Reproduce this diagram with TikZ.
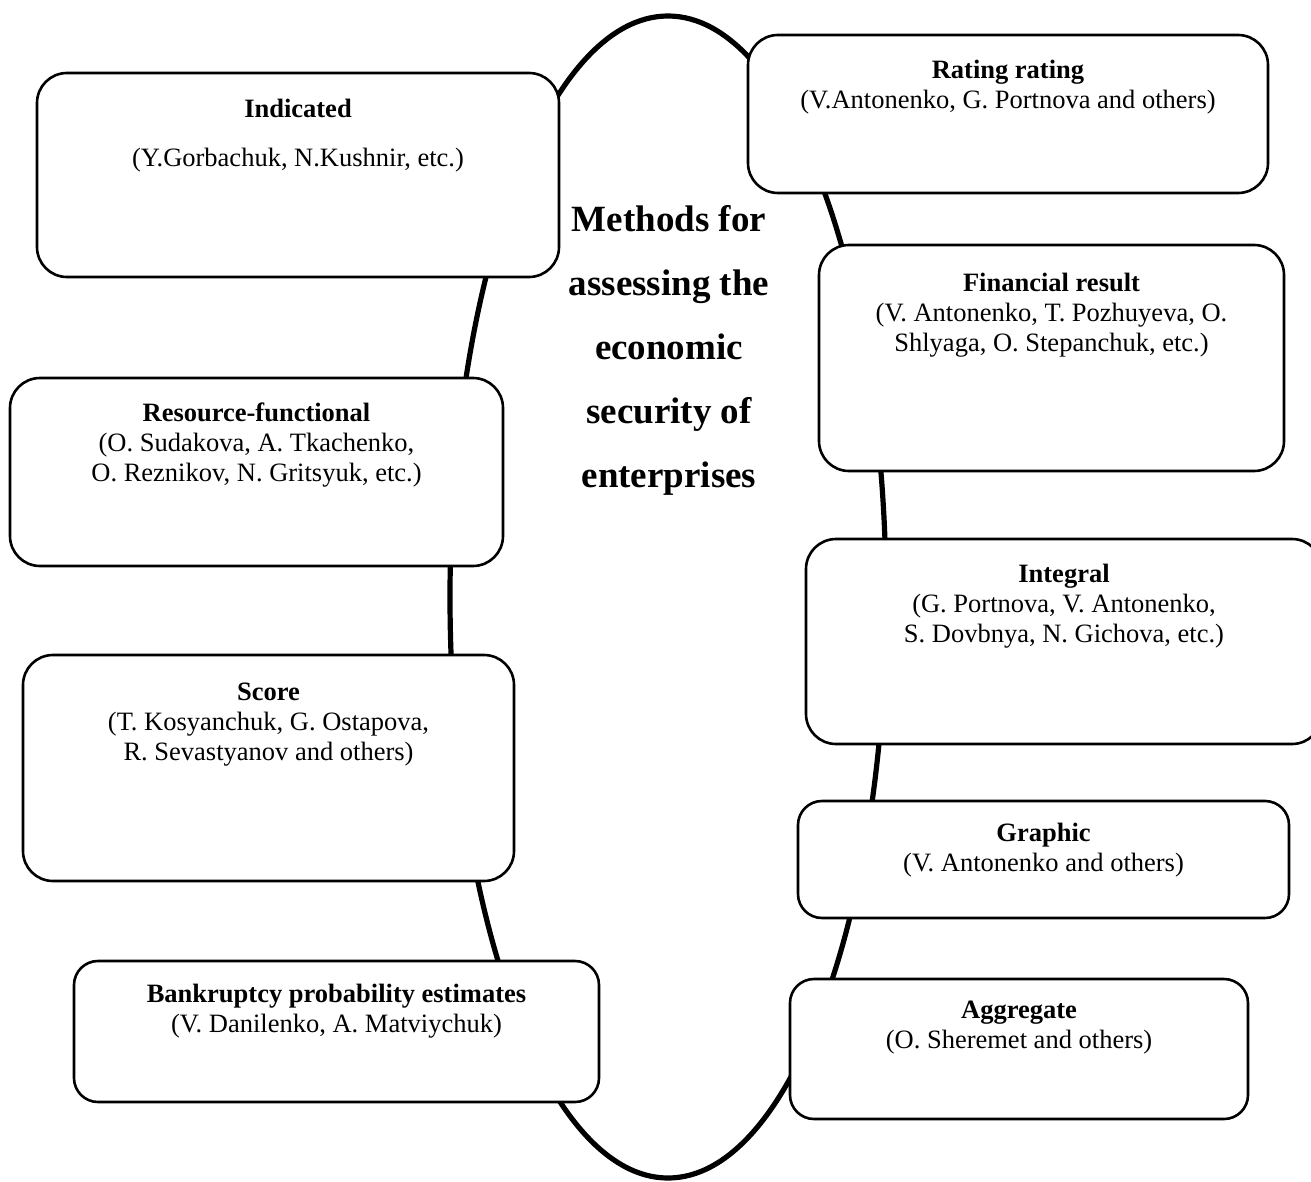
\documentclass[tikz,border=0pt]{standalone}
\usepackage{fontspec}
\setmainfont{Liberation Serif}
\usetikzlibrary{positioning}
\tikzset{
	methodbox/.style={draw, line width=1.3pt, fill=white, rounded corners=15pt, inner sep=0pt},
	methodtext/.style={align=center, inner sep=0pt, font=\fontsize{13.25}{15}\selectfont},
	titletext/.style={align=center, inner sep=0pt, font=\fontsize{18.5}{32}\selectfont\bfseries}
}

\begin{document}
\begin{tikzpicture}[x=0.5pt, y=-0.5pt]
	\useasboundingbox (0,0) rectangle (1311,1182);
	\clip (0,0) rectangle (1311,1182);
	\draw[line width=2.6pt] (668,597) ellipse [x radius=218, y radius=581];
	\node[titletext] (methods) at (669,350) {Methods for\\assessing the\\economic\\security of\\enterprises};
	\node[methodbox, minimum width=261pt, minimum height=102pt] (indicated) at (298,175) {};
	\node[methodtext, below=13.5pt of indicated.north] (indicatedtxt) {\textbf{Indicated}\\[9.5pt](Y.Gorbachuk, N.Kushnir, etc.)};
	\node[methodbox, minimum width=260pt, minimum height=79pt] (rating) at (1008,114) {};
	\node[methodtext, below=13pt of rating.north] (ratingtxt) {\textbf{Rating rating}\\(V.Antonenko, G. Portnova and others)};
	\node[methodbox, minimum width=232.5pt, minimum height=113pt] (financial) at (1051.5,358) {};
	\node[methodtext, below=14.5pt of financial.north] (financialtxt) {\textbf{Financial result}\\(V. Antonenko, T. Pozhuyeva, O.\\Shlyaga, O. Stepanchuk, etc.)};
	\node[methodbox, minimum width=246.5pt, minimum height=94pt] (resource) at (256.5,472) {};
	\node[methodtext, below=13pt of resource.north] (resourcetxt) {\textbf{Resource-functional}\\(O. Sudakova, A. Tkachenko,\\O. Reznikov, N. Gritsyuk, etc.)};
	\node[methodbox, minimum width=258pt, minimum height=102.5pt] (integral) at (1064,641.5) {};
	\node[methodtext, below=13pt of integral.north] (integraltxt) {\textbf{Integral}\\(G. Portnova, V. Antonenko,\\S. Dovbnya, N. Gichova, etc.)};
	\node[methodbox, minimum width=245.5pt, minimum height=113pt] (score) at (268.5,768) {};
	\node[methodtext, below=14.5pt of score.north] (scoretxt) {\textbf{Score}\\(T. Kosyanchuk, G. Ostapova,\\R. Sevastyanov and others)};
	\node[methodbox, rounded corners=12pt, minimum width=245.5pt, minimum height=58.5pt] (graphic) at (1043.5,859.5) {};
	\node[methodtext, below=11.5pt of graphic.north] (graphictxt) {\textbf{Graphic}\\(V. Antonenko and others)};
	\node[methodbox, rounded corners=12pt, minimum width=262.5pt, minimum height=70.5pt] (bankruptcy) at (336.5,1031.5) {};
	\node[methodtext, below=12pt of bankruptcy.north] (bankruptcytxt) {\textbf{Bankruptcy probability estimates}\\(V. Danilenko, A. Matviychuk)};
	\node[methodbox, rounded corners=12pt, minimum width=229pt, minimum height=70pt] (aggregate) at (1019,1049) {};
	\node[methodtext, below=11.5pt of aggregate.north] (aggregatetxt) {\textbf{Aggregate}\\(O. Sheremet and others)};
\end{tikzpicture}
\end{document}
